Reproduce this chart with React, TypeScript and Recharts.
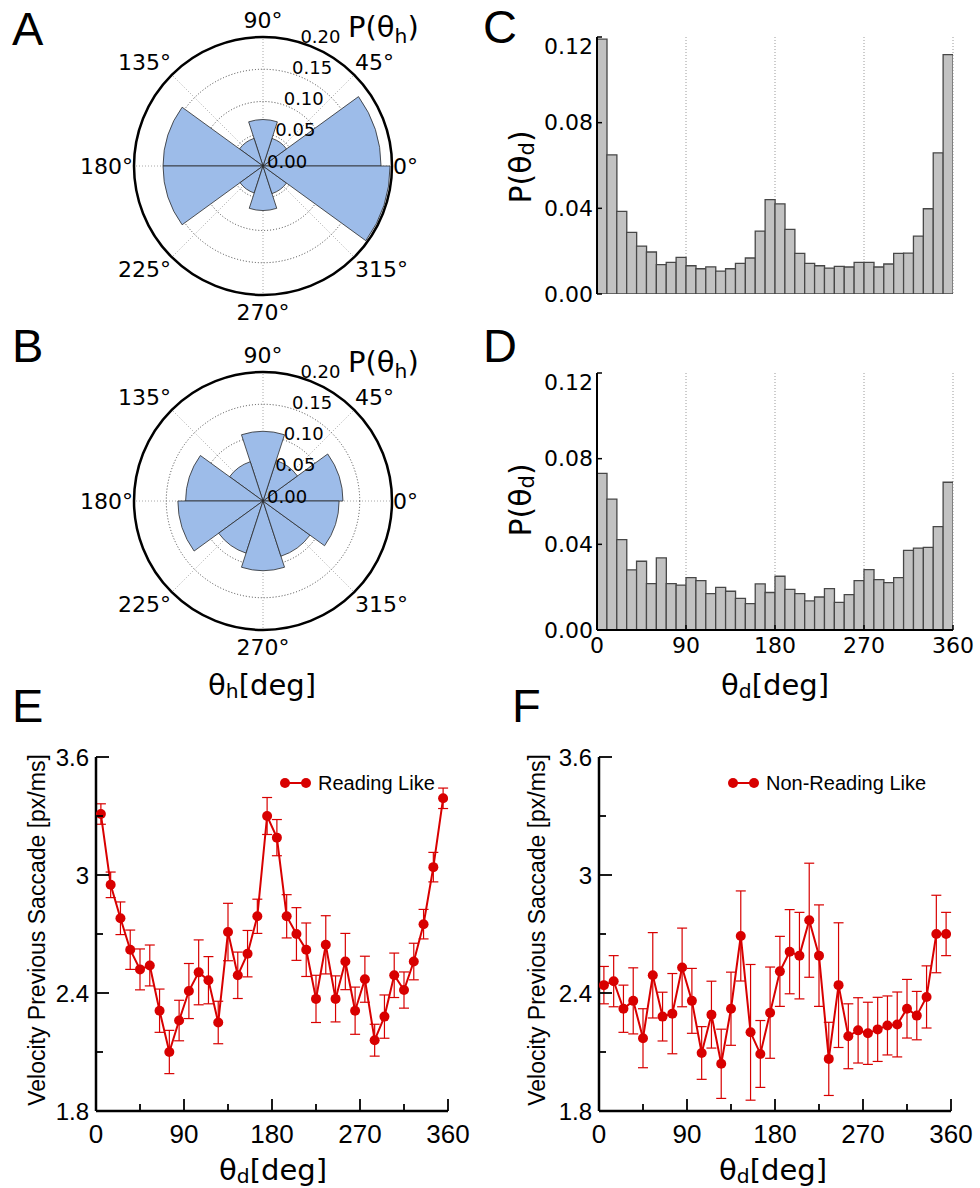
import React from 'react';
import {
  RadialBarChart, RadialBar, PolarGrid, PolarAngleAxis, PolarRadiusAxis,
  BarChart, Bar, LineChart, Line, ErrorBar, XAxis, YAxis, CartesianGrid
} from 'recharts';

// ---- data ----
const SECTOR_BINS = ['0-36', '36-72', '72-108', '108-144', '144-180', '180-216', '216-252', '252-288', '288-324', '324-360'];
const P_THETA_H_A = [0.183, 0.045, 0.072, 0.045, 0.155, 0.155, 0.044, 0.069, 0.045, 0.197];
const P_THETA_H_B = [0.124, 0.066, 0.108, 0.064, 0.120, 0.132, 0.085, 0.108, 0.090, 0.118];
const THETA_H_TICKS = [0, 45, 90, 135, 180, 225, 270, 315];
const R_TICKS = [0, 0.05, 0.1, 0.15, 0.2];

const DEG_MID = [5, 15, 25, 35, 45, 55, 65, 75, 85, 95, 105, 115, 125, 135, 145, 155, 165, 175,
  185, 195, 205, 215, 225, 235, 245, 255, 265, 275, 285, 295, 305, 315, 325, 335, 345, 355];
const P_THETA_D_C = [0.119, 0.065, 0.0386, 0.0288, 0.0224, 0.0196, 0.0137, 0.0148, 0.0171, 0.0132, 0.0118, 0.0127,
  0.0107, 0.0118, 0.0143, 0.0168, 0.0294, 0.0441, 0.0421, 0.0302, 0.019, 0.0143, 0.0132, 0.0121,
  0.0129, 0.0126, 0.0148, 0.0148, 0.0126, 0.014, 0.019, 0.0191, 0.027, 0.0398, 0.0659, 0.1118];
const P_THETA_D_D = [0.0731, 0.0611, 0.0422, 0.0281, 0.0321, 0.0217, 0.0337, 0.0217, 0.021, 0.0245, 0.0231, 0.017,
  0.0199, 0.0181, 0.0148, 0.0123, 0.0215, 0.0175, 0.0251, 0.019, 0.017, 0.0136, 0.0154, 0.0193,
  0.0129, 0.0165, 0.0231, 0.0282, 0.0235, 0.0221, 0.0245, 0.0372, 0.0382, 0.0386, 0.0483, 0.069];
const HIST_DEG_TICKS = [0, 90, 180, 270, 360];
const P_TICKS = [0, 0.04, 0.08, 0.12];

const VEL_READING = [3.31, 2.95, 2.78, 2.62, 2.52, 2.54, 2.31, 2.10, 2.26, 2.41, 2.505, 2.465, 2.25, 2.71, 2.49, 2.60, 2.79, 3.30,
  3.19, 2.79, 2.70, 2.62, 2.37, 2.645, 2.37, 2.56, 2.31, 2.47, 2.16, 2.28, 2.49, 2.415, 2.56, 2.75, 3.04, 3.39];
const ERR_READING = [0.052, 0.065, 0.083, 0.10, 0.104, 0.104, 0.11, 0.11, 0.103, 0.14, 0.165, 0.12, 0.108, 0.146, 0.118, 0.118, 0.087, 0.094,
  0.092, 0.11, 0.134, 0.136, 0.12, 0.148, 0.117, 0.143, 0.12, 0.117, 0.081, 0.11, 0.113, 0.092, 0.093, 0.075, 0.075, 0.052];
const VEL_NONREADING = [2.44, 2.46, 2.32, 2.36, 2.17, 2.49, 2.28, 2.295, 2.53, 2.36, 2.095, 2.29, 2.04, 2.32, 2.69, 2.20, 2.09, 2.30,
  2.51, 2.61, 2.59, 2.77, 2.59, 2.065, 2.44, 2.18, 2.21, 2.195, 2.215, 2.235, 2.24, 2.32, 2.285, 2.38, 2.70, 2.70];
const ERR_NONREADING = [0.095, 0.13, 0.12, 0.168, 0.15, 0.217, 0.124, 0.204, 0.20, 0.165, 0.134, 0.17, 0.176, 0.186, 0.229, 0.345, 0.17, 0.232,
  0.178, 0.214, 0.22, 0.29, 0.258, 0.186, 0.317, 0.165, 0.166, 0.158, 0.163, 0.15, 0.165, 0.149, 0.123, 0.158, 0.197, 0.11];
const VEL_DEG_TICKS = [0, 45, 90, 135, 180, 225, 270, 315, 360];
const VEL_TICKS = [1.8, 2.1, 2.4, 2.7, 3.0, 3.3, 3.6];

// ---- styles ----
const DEJAVU = '"DejaVu Sans", sans-serif';
const ARIAL = '"Liberation Sans", Arial, sans-serif';
const BLUE = '#9dbce9';
const RED = '#d80000';
const POLAR_R = 129;
const POLAR_CX = 263;
const POLAR_CY = 166;
// recharts draws each centric sector one band behind its start, so start the sweep one bin later
const SECTOR_SPAN = 360 / SECTOR_BINS.length;

type Side = 'bottom' | 'top' | 'left' | 'right';
interface TickOpts {
  len: (v: number) => number;
  label?: (v: number) => string | null;
  gap?: number;
  font?: string;
  size?: number;
  width?: number;
  dy?: (v: number) => number;
}

// tick marks drawn inward, labels outside
const axisTick = (side: Side, o: TickOpts) => (props: any) => {
  const { x, y, payload } = props;
  const v = payload.value;
  const L = o.len(v);
  let x2 = x, y2 = y;
  if (side === 'bottom') y2 = y - L;
  else if (side === 'top') y2 = y + L;
  else if (side === 'left') x2 = x + L;
  else x2 = x - L;
  const text = o.label ? o.label(v) : null;
  const gap = o.gap ?? 0;
  const dy = o.dy ? o.dy(v) : 0;
  return (
    <g>
      {L > 0 && <line x1={x} y1={y} x2={x2} y2={y2} stroke="#000" strokeWidth={o.width ?? 1.5} />}
      {text != null && side === 'bottom' && (
        <text x={x} y={y + gap} textAnchor="middle" dominantBaseline="central" fontFamily={o.font} fontSize={o.size} fill="#000">{text}</text>
      )}
      {text != null && side === 'left' && (
        <text x={x - gap} y={y + dy} textAnchor="end" dominantBaseline="central" fontFamily={o.font} fontSize={o.size} fill="#000">{text}</text>
      )}
    </g>
  );
};

const RadiusTick = (props: any) => {
  const { x, y, payload } = props;
  return (
    <text x={x + 4} y={y - 5} textAnchor="start" dominantBaseline="central" fontSize={18} fontFamily={DEJAVU} fill="#000">
      {payload.value.toFixed(2)}
    </text>
  );
};

const PolarRose: React.FC<{ values: number[]; top: number }> = ({ values, top }) => {
  const data = SECTOR_BINS.map((bin, i) => ({ bin, p: values[i] }));
  return (
    <div style={{ position: 'absolute', left: 0, top, width: 470, height: 330 }}>
      <RadialBarChart
        width={470} height={330} data={data} layout="centric"
        cx={POLAR_CX} cy={POLAR_CY} innerRadius={0} outerRadius={POLAR_R}
        startAngle={SECTOR_SPAN} endAngle={360 + SECTOR_SPAN} barCategoryGap={0} barGap={0}
        margin={{ top: 0, right: 0, bottom: 0, left: 0 }}
      >
        <PolarAngleAxis type="category" dataKey="bin" tick={false} axisLine={false} tickLine={false} />
        <PolarRadiusAxis type="number" domain={[0, 0.2]} ticks={R_TICKS} angle={75}
          axisLine={false} tickLine={false} tick={RadiusTick} />
        <RadialBar dataKey="p" fill={BLUE} stroke="#2a2a2a" strokeWidth={0.8} isAnimationActive={false} />
        <PolarGrid gridType="circle" polarAngles={THETA_H_TICKS} polarRadius={[]} stroke="#a8a8a8" strokeDasharray="1 2" />
        <PolarGrid gridType="circle" radialLines={false} stroke="#444" strokeDasharray="1 2" />
        <PolarGrid gridType="circle" polarAngles={[]} polarRadius={[POLAR_R]} radialLines={false} stroke="#000" strokeWidth={2.5} />
      </RadialBarChart>
    </div>
  );
};

const Histogram: React.FC<{ values: number[]; top: number; height: number; mTop: number; mBottom: number; xHeight: number; showX: boolean }> =
  ({ values, top, height, mTop, mBottom, xHeight, showX }) => {
    const data = DEG_MID.map((deg, i) => ({ deg, p: values[i] }));
    const frame = { stroke: '#000', strokeWidth: 2 };
    return (
      <div style={{ position: 'absolute', left: 490, top, width: 490, height }}>
        <BarChart width={490} height={height} data={data} barCategoryGap={0} barGap={0}
          margin={{ top: mTop, right: 27, bottom: mBottom, left: 0 }}>
          <CartesianGrid horizontal={false} stroke="#9a9a9a" strokeDasharray="1 2" />
          <XAxis dataKey="deg" type="number" domain={[0, 360]} ticks={HIST_DEG_TICKS} interval={0}
            height={xHeight} tickSize={0} tickMargin={0} tickLine={false} axisLine={frame} allowDataOverflow
            tick={axisTick('bottom', { len: () => 5, label: showX ? (v) => String(v) : undefined, gap: 15, font: DEJAVU, size: 22 })} />
          <XAxis xAxisId="top" orientation="top" dataKey="deg" type="number" domain={[0, 360]} ticks={HIST_DEG_TICKS} interval={0}
            height={0} tickSize={0} tickMargin={0} tickLine={false} axisLine={frame}
            tick={axisTick('top', { len: () => 5 })} />
          <YAxis type="number" domain={[0, 0.12]} ticks={P_TICKS} interval={0} width={107}
            tickSize={0} tickMargin={0} tickLine={false} axisLine={frame} allowDataOverflow
            tick={axisTick('left', { len: () => 5, label: (v) => v.toFixed(2), gap: 4, font: DEJAVU, size: 22, dy: (v) => (v >= 0.12 ? 9 : 0) })} />
          <YAxis yAxisId="right" orientation="right" type="number" domain={[0, 0.12]} ticks={P_TICKS} interval={0} width={0}
            tickSize={0} tickMargin={0} tickLine={false} axisLine={frame}
            tick={axisTick('right', { len: () => 5 })} />
          <Bar dataKey="p" fill="#c2c2c2" stroke="#474747" strokeWidth={1.3} isAnimationActive={false} />
        </BarChart>
      </div>
    );
  };

const isMajorDeg = (v: number) => v % 90 === 0;
const isMajorVel = (v: number) => Math.abs(((v - 1.8) / 0.6) - Math.round((v - 1.8) / 0.6)) < 1e-6;

const VelocityPanel: React.FC<{ vals: number[]; errs: number[]; left: number; width: number; yWidth: number; mRight: number }> =
  ({ vals, errs, left, width, yWidth, mRight }) => {
    const data = DEG_MID.map((deg, i) => ({ deg, v: vals[i], e: errs[i] }));
    const frame = { stroke: '#000', strokeWidth: 2.5 };
    const degLen = (v: number) => (isMajorDeg(v) ? 12 : 7);
    const velLen = (v: number) => (isMajorVel(v) ? 13 : 7);
    return (
      <div style={{ position: 'absolute', left, top: 740, width, height: 448 }}>
        <LineChart width={width} height={448} data={data} margin={{ top: 17, right: mRight, bottom: 27, left: 0 }}>
          <XAxis dataKey="deg" type="number" domain={[0, 360]} ticks={VEL_DEG_TICKS} interval={0}
            height={50} tickSize={0} tickMargin={0} tickLine={false} axisLine={frame} allowDataOverflow
            tick={axisTick('bottom', { len: degLen, label: (v) => (isMajorDeg(v) ? String(v) : null), gap: 23, font: ARIAL, size: 26, width: 1.8 })} />
          <XAxis xAxisId="top" orientation="top" dataKey="deg" type="number" domain={[0, 360]} ticks={VEL_DEG_TICKS} interval={0}
            height={0} tickSize={0} tickMargin={0} tickLine={false} axisLine={frame}
            tick={axisTick('top', { len: degLen, width: 1.8 })} />
          <YAxis type="number" domain={[1.8, 3.6]} ticks={VEL_TICKS} interval={0} width={yWidth}
            tickSize={0} tickMargin={0} tickLine={false} axisLine={frame} allowDataOverflow
            tick={axisTick('left', { len: velLen, label: (v) => (isMajorVel(v) ? String(Number(v.toFixed(1))) : null), gap: 7, font: ARIAL, size: 24, width: 1.8 })} />
          <YAxis yAxisId="right" orientation="right" type="number" domain={[1.8, 3.6]} ticks={VEL_TICKS} interval={0} width={0}
            tickSize={0} tickMargin={0} tickLine={false} axisLine={frame}
            tick={axisTick('right', { len: velLen, width: 1.8 })} />
          <Line dataKey="v" stroke={RED} strokeWidth={2} isAnimationActive={false}
            dot={{ r: 5, fill: RED, stroke: RED, strokeWidth: 0 }}>
            <ErrorBar dataKey="e" width={5} stroke={RED} strokeWidth={1.2} direction="y" />
          </Line>
        </LineChart>
      </div>
    );
  };

const PolarAngleLabels: React.FC<{ cy: number }> = ({ cy }) => (
  <g>
    {THETA_H_TICKS.map((a) => {
      const c = Math.cos((a * Math.PI) / 180);
      const s = Math.sin((a * Math.PI) / 180);
      const anchor = c > 0.1 ? 'start' : c < -0.1 ? 'end' : 'middle';
      return (
        <text key={a} x={POLAR_CX + 130 * c} y={cy - 146 * s} textAnchor={anchor} dominantBaseline="central"
          fontFamily={DEJAVU} fontSize={22} fill="#000">{`${a}°`}</text>
      );
    })}
  </g>
);

const SubLabel: React.FC<{ x: number; y: number; pre: string; sub: string; post: string; size: number; rotate?: boolean; anchor?: string; baseline?: string }> =
  ({ x, y, pre, sub, post, size, rotate, anchor = 'middle', baseline = 'central' }) => (
    <text x={x} y={y} textAnchor={anchor} dominantBaseline={baseline} fontFamily={DEJAVU} fontSize={size} fill="#000"
      transform={rotate ? `rotate(-90 ${x} ${y})` : undefined}>
      {pre}
      <tspan dy={size * 0.22} fontSize={size * 0.7}>{sub}</tspan>
      <tspan dy={-size * 0.22}>{post}</tspan>
    </text>
  );

const Legend: React.FC<{ x: number; label: string }> = ({ x, label }) => (
  <g>
    <line x1={x} y1={783} x2={x + 28} y2={783} stroke={RED} strokeWidth={2} />
    <circle cx={x + 4} cy={783} r={5} fill={RED} />
    <circle cx={x + 25} cy={783} r={5} fill={RED} />
    <text x={x + 37} y={783} dominantBaseline="central" fontFamily={ARIAL} fontSize={20} fill="#000">{label}</text>
  </g>
);

const Letter: React.FC<{ x: number; y: number; t: string }> = ({ x, y, t }) => (
  <text x={x} y={y} fontFamily={ARIAL} fontSize={47} fill="#000">{t}</text>
);

const App: React.FC = () => {
  const yTitle = 'Velocity Previous Saccade [px/ms]';
  return (
    <div style={{ position: 'absolute', left: 0, top: 0, width: 980, height: 1188, background: '#fff', overflow: 'hidden' }}>
      <PolarRose values={P_THETA_H_A} top={0} />
      <PolarRose values={P_THETA_H_B} top={335} />
      <Histogram values={P_THETA_D_C} top={0} height={310} mTop={37} mBottom={16} xHeight={0} showX={false} />
      <Histogram values={P_THETA_D_D} top={340} height={350} mTop={33} mBottom={20} xHeight={40} showX />
      <VelocityPanel vals={VEL_READING} errs={ERR_READING} left={0} width={480} yWidth={96} mRight={32} />
      <VelocityPanel vals={VEL_NONREADING} errs={ERR_NONREADING} left={490} width={490} yWidth={109} mRight={29} />

      <svg width={980} height={1188} style={{ position: 'absolute', left: 0, top: 0, pointerEvents: 'none' }}>
        <Letter x={12} y={45} t="A" />
        <Letter x={12} y={362} t="B" />
        <Letter x={483} y={43} t="C" />
        <Letter x={483} y={362} t="D" />
        <Letter x={12} y={722} t="E" />
        <Letter x={512} y={722} t="F" />

        <PolarAngleLabels cy={POLAR_CY} />
        <PolarAngleLabels cy={POLAR_CY + 335} />
        <SubLabel x={348} y={37} pre="P(θ" sub="h" post=")" size={29} anchor="start" baseline="auto" />
        <SubLabel x={348} y={372} pre="P(θ" sub="h" post=")" size={29} anchor="start" baseline="auto" />
        <SubLabel x={262} y={685} pre="θ" sub="h" post="[deg]" size={29} />

        <SubLabel x={520} y={167} pre="P(θ" sub="d" post=")" size={30} rotate />
        <SubLabel x={520} y={500} pre="P(θ" sub="d" post=")" size={30} rotate />
        <SubLabel x={775} y={685} pre="θ" sub="d" post="[deg]" size={29} />

        <text x={37} y={930} textAnchor="middle" dominantBaseline="central" fontFamily={ARIAL} fontSize={23}
          transform="rotate(-90 37 930)">{yTitle}</text>
        <text x={537} y={930} textAnchor="middle" dominantBaseline="central" fontFamily={ARIAL} fontSize={23}
          transform="rotate(-90 537 930)">{yTitle}</text>
        <SubLabel x={273} y={1170} pre="θ" sub="d" post="[deg]" size={29} />
        <SubLabel x={773} y={1170} pre="θ" sub="d" post="[deg]" size={29} />
        <Legend x={281} label="Reading Like" />
        <Legend x={729} label="Non-Reading Like" />
      </svg>
    </div>
  );
};

export default App;
